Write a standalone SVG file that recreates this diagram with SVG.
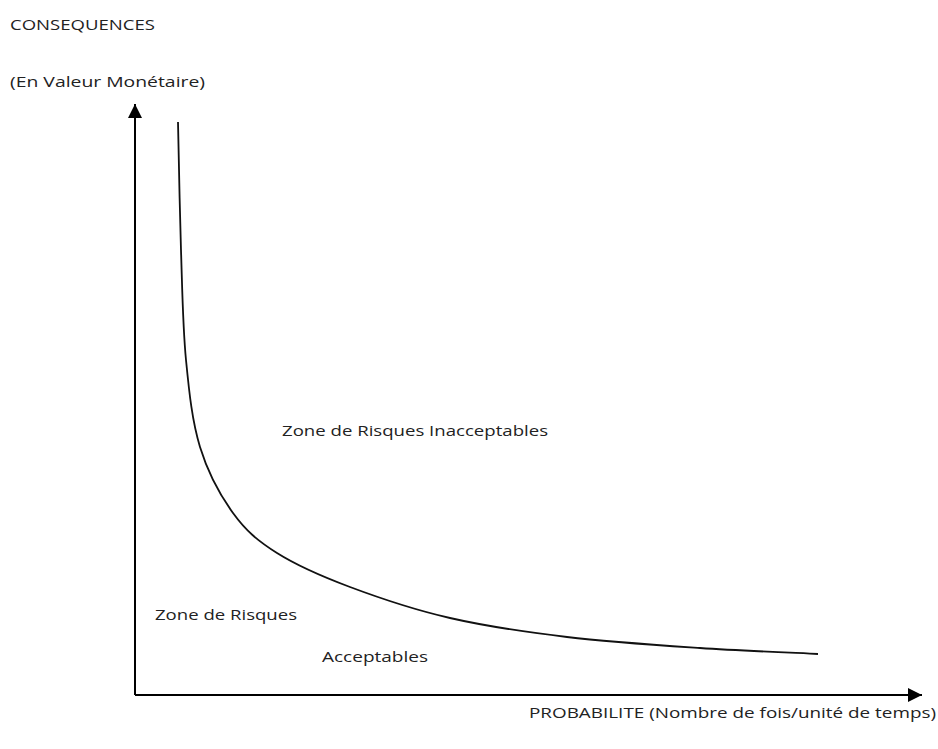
<svg xmlns="http://www.w3.org/2000/svg" width="938" height="749" viewBox="0 0 938 749">
<style>
.t{font-family:"Open Sans","Liberation Sans",sans-serif;font-size:14px;fill:#222}
.ax{stroke:#000;stroke-width:2;fill:none}
.cv{stroke:#111;stroke-width:1.8;fill:none}
</style>
<defs>
<marker id="ah" viewBox="0 0 10 10" refX="10" refY="5" markerWidth="7" markerHeight="7" markerUnits="strokeWidth" orient="auto">
<path d="M0,0 L10,5 L0,10 z" fill="#000"/>
</marker>
</defs>
<rect width="938" height="749" fill="#fff"/>
<g id="connectors">
<line id="y-axis" class="ax" x1="135" y1="695" x2="135" y2="104" marker-end="url(#ah)"/>
<line id="x-axis" class="ax" x1="135" y1="695" x2="922" y2="695" marker-end="url(#ah)"/>
<path id="curve" class="cv" d="M178,122 C178.5,143.3 179.7,210.3 181,250 C182.3,289.7 182.8,327.2 186,360 C189.2,392.8 192.2,421.5 200,447 C207.8,472.5 220.2,495.3 233,513 C245.8,530.7 257.5,540.7 277,553 C296.5,565.3 321.2,576.2 350,587 C378.8,597.8 413.8,609.7 450,618 C486.2,626.3 525.3,632 567,637 C608.7,642 658.2,645.2 700,648 C741.8,650.8 798.3,653 818,654"/>
</g>
<g id="label-consequences"><text class="t" x="10" y="30" textLength="145" lengthAdjust="spacingAndGlyphs">CONSEQUENCES</text></g>
<g id="label-valeur"><text class="t" x="10" y="87" textLength="195" lengthAdjust="spacingAndGlyphs">(En Valeur Monétaire)</text></g>
<g id="zone-inacceptables"><text class="t" x="282" y="436" textLength="266" lengthAdjust="spacingAndGlyphs">Zone de Risques Inacceptables</text></g>
<g id="zone-acceptables">
<text class="t" x="155" y="620" textLength="142" lengthAdjust="spacingAndGlyphs">Zone de Risques</text>
<text class="t" x="322" y="662" textLength="106" lengthAdjust="spacingAndGlyphs">Acceptables</text>
</g>
<g id="label-probabilite"><text class="t" x="529" y="718" textLength="407" lengthAdjust="spacingAndGlyphs">PROBABILITE (Nombre de fois/unité de temps)</text></g>
</svg>
